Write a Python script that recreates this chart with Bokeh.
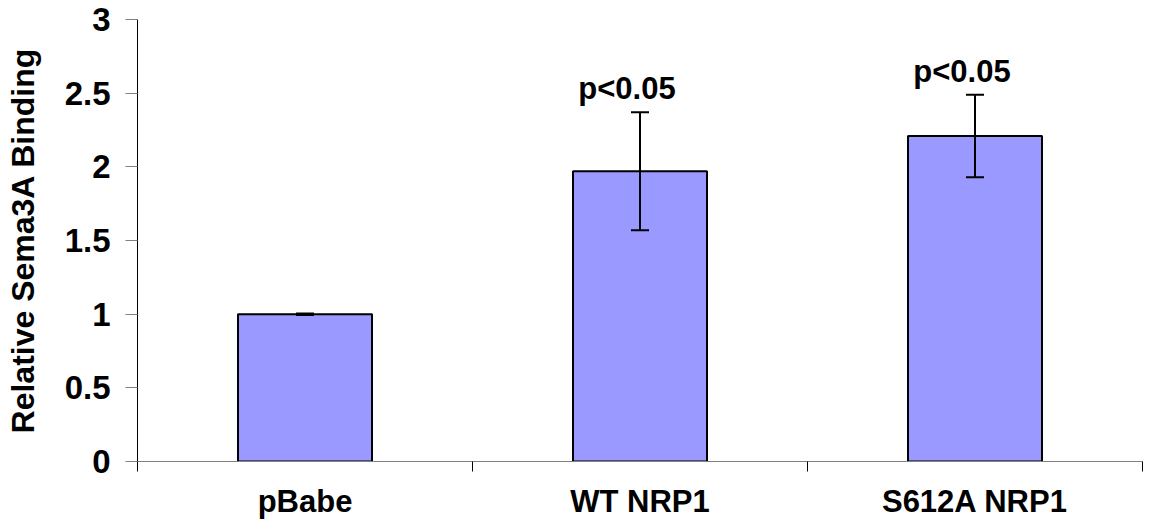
from bokeh.plotting import figure
from bokeh.models import ColumnDataSource, Range1d, FixedTicker, Whisker, TeeHead
from bokeh.core.properties import value
from bokeh.embed import file_html
from bokeh.resources import INLINE

categories = ["pBabe", "WT NRP1", "S612A NRP1"]
means = [1.0, 1.97, 2.21]
errors = [0.005, 0.40, 0.28]
annotations = ["", "p<0.05", "p<0.05"]
y_ticks = [0, 0.5, 1, 1.5, 2, 2.5, 3]
y_tick_labels = ["0", "0.5", "1", "1.5", "2", "2.5", "3"]
y_title = "Relative Sema3A Binding"

FONT = "Liberation Sans"

xs = [i + 0.5 for i in range(len(categories))]
boundaries = [i for i in range(len(categories) + 1)]
upper = [m + e for m, e in zip(means, errors)]
lower = [m - e for m, e in zip(means, errors)]

src = ColumnDataSource(dict(x=xs, top=means, upper=upper, lower=lower))

p = figure(width=1149, height=525, output_backend="svg", toolbar_location=None,
           x_range=Range1d(0, len(categories)), y_range=Range1d(0, 3),
           min_border_left=137, min_border_right=7, min_border_top=19,
           min_border_bottom=64)
p.outline_line_color = None
p.xgrid.visible = False
p.ygrid.visible = False
p.background_fill_color = "white"
p.border_fill_color = "white"

p.vbar(x="x", top="top", bottom=0, width=0.4, source=src,
       fill_color="#9999FF", line_color="black", line_width=2)

w = Whisker(source=src, base="x", upper="upper", lower="lower",
            line_color="black", line_width=2, level="overlay",
            upper_head=TeeHead(size=18, line_color="black", line_width=2),
            lower_head=TeeHead(size=18, line_color="black", line_width=2))
p.add_layout(w)

ann_x = [x for x, a in zip(xs, annotations) if a]
ann_y = [u + 0.16 for u, a in zip(upper, annotations) if a]
ann_t = [a for a in annotations if a]
p.text(x=ann_x, y=ann_y, text=ann_t, text_font=value(FONT), text_font_style="bold",
       text_font_size="31px", text_align="center", text_baseline="alphabetic",
       text_color="black", x_offset=-13)

# y axis
ya = p.yaxis[0]
ya.ticker = FixedTicker(ticks=y_ticks, minor_ticks=[])
ya.major_label_overrides = {t: l for t, l in zip(y_ticks, y_tick_labels)}
ya.axis_line_color = "black"
ya.axis_line_width = 1
ya.major_tick_line_color = "#808080"
ya.major_tick_out = 12
ya.major_tick_in = 0
ya.minor_tick_line_color = None
ya.major_label_standoff = 15
ya.major_label_text_font = FONT
ya.major_label_text_font_style = "bold"
ya.major_label_text_font_size = "33px"
ya.major_label_text_color = "black"
ya.axis_label = y_title
ya.axis_label_text_font = FONT
ya.axis_label_text_font_style = "bold"
ya.axis_label_text_font_size = "32px"
ya.axis_label_text_color = "black"
ya.axis_label_standoff = 21

# x axis
xa = p.xaxis[0]
xa.ticker = FixedTicker(ticks=xs, minor_ticks=boundaries)
xa.major_label_overrides = {x: c for x, c in zip(xs, categories)}
xa.axis_line_color = "#808080"
xa.axis_line_width = 1
xa.major_tick_line_color = None
xa.major_tick_out = 0
xa.major_tick_in = 0
xa.minor_tick_line_color = "black"
xa.minor_tick_out = 10
xa.minor_tick_in = 0
xa.major_label_standoff = 12
xa.major_label_text_font = FONT
xa.major_label_text_font_style = "bold"
xa.major_label_text_font_size = "31px"
xa.major_label_text_color = "black"

open("out.html", "w").write(file_html(p, INLINE))
